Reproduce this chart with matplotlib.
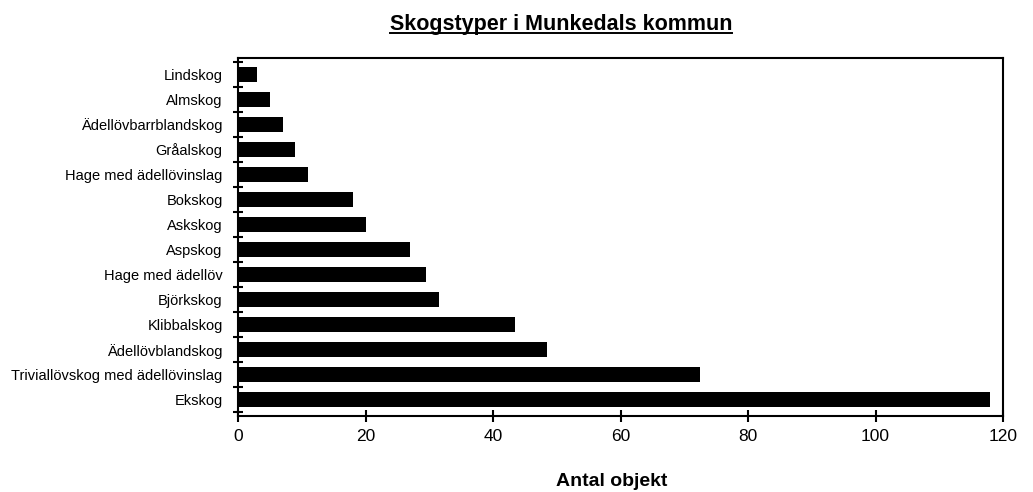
import matplotlib
matplotlib.use('Agg')
import matplotlib.pyplot as plt
from matplotlib.lines import Line2D
import numpy as np

# ── data ────────────────────────────────────────────────────
categories = ['Ekskog', 'Triviallövskog med ädellövinslag', 'Ädellövblandskog',
              'Klibbalskog', 'Björkskog', 'Hage med ädellöv', 'Aspskog',
              'Askskog', 'Bokskog', 'Hage med ädellövinslag', 'Gråalskog',
              'Ädellövbarrblandskog', 'Almskog', 'Lindskog']
antal = [118, 72.5, 48.5, 43.5, 31.5, 29.5, 27, 20, 18, 11, 9, 7, 5, 3]
xticks = [0, 20, 40, 60, 80, 100, 120]

plt.rcParams['font.family'] = ['Liberation Sans', 'DejaVu Sans']

fig = plt.figure(figsize=(10.33, 4.92), dpi=100)
ax = fig.add_axes([0.2304, 0.1545, 0.7406, 0.7276])

y = np.arange(len(categories))
ax.barh(y, antal, height=0.6, color='black')

ax.set_xlim(0, 120)
ax.set_ylim(-0.64, len(categories) - 0.36)
ax.set_xticks(xticks)
ax.set_xticklabels([str(t) for t in xticks], fontsize=12.5)
ax.set_yticks(y)
ax.set_yticklabels(categories, fontsize=10.5)
ax.set_yticks(np.arange(len(categories) + 1) - 0.5, minor=True)

ax.tick_params(axis='x', direction='inout', length=9, width=1.5, pad=5)
ax.tick_params(axis='y', which='major', length=0, pad=11)
ax.tick_params(axis='y', which='minor', direction='inout', length=7, width=1.5)

for s in ax.spines.values():
    s.set_linewidth(1.5)
    s.set_color('black')

fig.text(0.592, 1 - 486 / 492, 'Antal objekt', ha='center', va='baseline',
         fontsize=14, fontweight='bold')

# underlined title
title_y = 1 - 30 / 492
title = fig.text(0.543, title_y, 'Skogstyper i Munkedals kommun', ha='center',
                 va='baseline', fontsize=15.5, fontweight='bold')
renderer = fig.canvas.get_renderer()
bb = title.get_window_extent(renderer).transformed(fig.transFigure.inverted())
fig.add_artist(Line2D([bb.x0, bb.x1], [title_y - 3 / 492] * 2, color='black',
                      linewidth=1.4, transform=fig.transFigure))

fig.savefig('out.png', dpi=100, facecolor='white')
